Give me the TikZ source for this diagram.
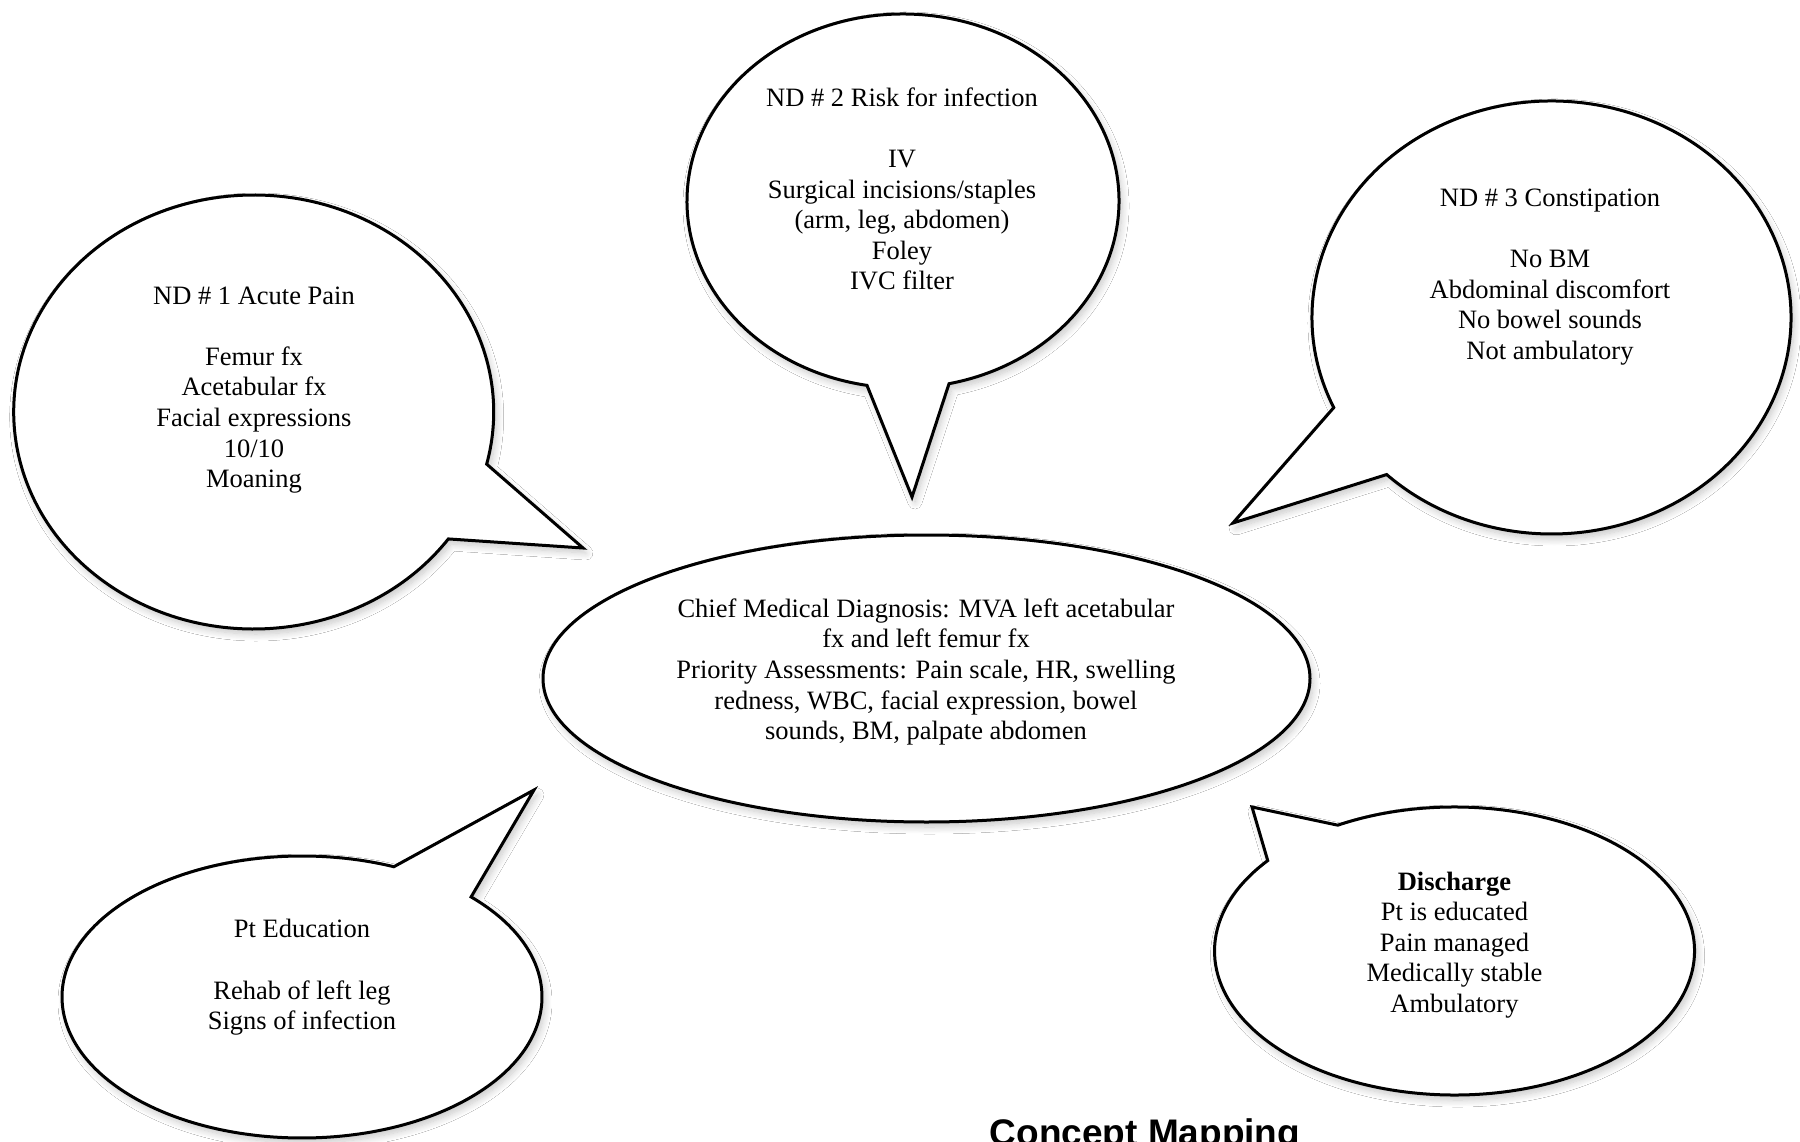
\documentclass[tikz,border=0pt]{standalone}
\usepackage{fontspec}
\setmainfont{Liberation Serif}
\newfontfamily\titlefont{Liberation Sans}
\usetikzlibrary{shadows.blur}
\begin{document}
\begin{tikzpicture}[x=1pt,y=-1pt,
  bubble/.style={draw=black, line width=3pt, fill=white, line join=miter, miter limit=10,
    blur shadow={shadow xshift=3pt, shadow yshift=-5pt, shadow blur radius=7pt,
      shadow blur steps=10, shadow opacity=22}},
  btext/.style={align=center, inner sep=0pt, text=black,
    font=\fontsize{26.5}{30.6}\selectfont}
]
\fill[white] (0,0) rectangle (1800,1142);
\useasboundingbox (0,0) rectangle (1800,1142);

% ---- Bubble 1: ND #1
\coordinate (c1) at (253.7,412);
\coordinate (t1) at (583,548);
\path (c1) ++(13.9:240 and 217) coordinate (a1);
\path (c1) ++(35.8:240 and 217) coordinate (b1);
\draw[bubble] (a1) -- (t1) -- (b1)
  arc[start angle=35.8, end angle=373.9, x radius=240, y radius=217] -- cycle;

% ---- Bubble 2: ND #2
\coordinate (c2) at (903,201);
\coordinate (t2) at (912,497);
\path (c2) ++(77.7:216 and 187) coordinate (a2);
\path (c2) ++(99.6:216 and 187) coordinate (b2);
\draw[bubble] (a2) -- (t2) -- (b2)
  arc[start angle=99.6, end angle=437.7, x radius=216, y radius=187] -- cycle;

% ---- Bubble 3: ND #3
\coordinate (c3) at (1551.5,317.5);
\coordinate (t3) at (1233,523);
\path (c3) ++(133.5:239.5 and 216.5) coordinate (a3);
\path (c3) ++(155.4:239.5 and 216.5) coordinate (b3);
\draw[bubble] (a3) -- (t3) -- (b3)
  arc[start angle=155.4, end angle=493.5, x radius=239.5, y radius=216.5] -- cycle;

% ---- Central ellipse
\coordinate (c0) at (926.5,678.5);
\draw[bubble] (c0) ellipse[x radius=383.5, y radius=143.5];

% ---- Bubble 4: Pt Education
\coordinate (c4) at (302,997);
\coordinate (t4) at (534,790);
\path (c4) ++(-67.5:240 and 141) coordinate (a4);
\path (c4) ++(-45.2:240 and 141) coordinate (b4);
\draw[bubble] (a4) -- (t4) -- (b4)
  arc[start angle=-45.2, end angle=292.5, x radius=240, y radius=141] -- cycle;

% ---- Bubble 5: Discharge
\coordinate (c5) at (1454.5,951);
\coordinate (t5) at (1252,807);
\path (c5) ++(218.9:240 and 144) coordinate (a5);
\path (c5) ++(240.9:240 and 144) coordinate (b5);
\draw[bubble] (a5) -- (t5) -- (b5)
  arc[start angle=240.9, end angle=578.9, x radius=240, y radius=144] -- cycle;

% ---- Texts
\node[btext] (n1) at (254,390) {ND \# 1 Acute Pain\\[30.6pt]Femur fx\\Acetabular fx\\Facial expressions\\10/10\\Moaning};
\node[btext] (n2) at (902,189) {ND \# 2 Risk for infection\\[30.6pt]IV\\Surgical incisions/staples\\(arm, leg, abdomen)\\Foley\\IVC filter};
\node[btext] (n3) at (1550,277) {ND \# 3 Constipation\\[30.6pt]No BM\\Abdominal discomfort\\No bowel sounds\\Not ambulatory};
\node[btext] (n0) at (926,672) {Chief Medical Diagnosis: MVA left acetabular\\fx and left femur fx\\Priority Assessments: Pain scale, HR, swelling\\redness, WBC, facial expression, bowel\\sounds, BM, palpate abdomen};
\node[btext] (n4) at (302,977.5) {Pt Education\\[30.6pt]Rehab of left leg\\Signs of infection};
\node[btext] (n5) at (1454.5,945) {\textbf{Discharge}\\Pt is educated\\Pain managed\\Medically stable\\Ambulatory};

\node[anchor=base, inner sep=0pt, font=\titlefont\bfseries\fontsize{37}{40}\selectfont] (title) at (1145,1145) {Concept Mapping};
\end{tikzpicture}
\end{document}
